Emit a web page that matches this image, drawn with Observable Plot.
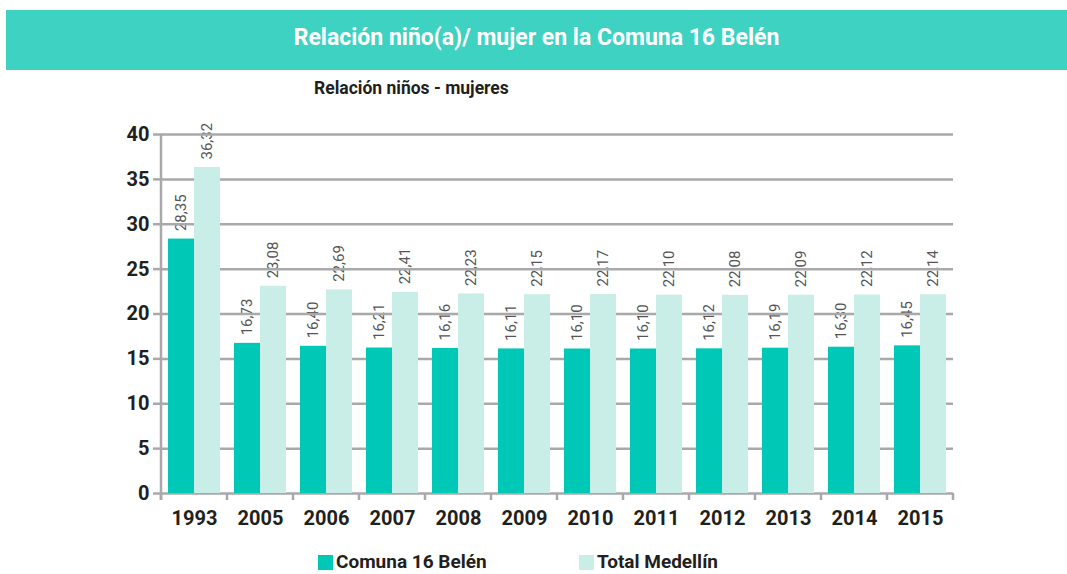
<!DOCTYPE html>
<html>
<head>
<meta charset="utf-8">
<script src="https://cdn.jsdelivr.net/npm/d3@7"></script>
<script src="https://cdn.jsdelivr.net/npm/@observablehq/plot@0.6"></script>
<style>
  body { margin: 0; background: #fff; font-family: Roboto, "Noto Sans", sans-serif; }
  #wrap { position: relative; width: 1067px; height: 574px; overflow: hidden; }
  #banner { position: absolute; left: 6px; top: 10px; width: 1061px; height: 60px; background: #3dd2c2;
    color: #fff; font-weight: bold; font-size: 23px; display: flex; align-items: center; justify-content: center; padding-bottom: 6px; box-sizing: border-box; }
  #subtitle { position: absolute; left: 314px; top: 78px; font-size: 17.5px; font-weight: bold; color: #231f20; }
  #chart { position: absolute; left: 0; top: 110px; }
  .leg { position: absolute; top: 552px; line-height: 20px; display: flex; align-items: center; font-size: 19px; font-weight: bold; color: #231f20; }
  .leg span.sw { display: inline-block; width: 15px; height: 15px; margin-right: 3px; }
</style>
</head>
<body>
<div id="wrap">
  <div id="banner">Relación niño(a)/ mujer en la Comuna 16 Belén</div>
  <div id="subtitle">Relación niños - mujeres</div>
  <div id="chart"></div>
  <div class="leg" style="left:318px"><span class="sw" style="background:#00c8b7"></span>Comuna 16 Belén</div>
  <div class="leg" style="left:579px"><span class="sw" style="background:#c9eee7"></span>Total Medellín</div>
</div>
<script>
const years = ["1993","2005","2006","2007","2008","2009","2010","2011","2012","2013","2014","2015"];
const comuna = [28.35,16.73,16.40,16.21,16.16,16.11,16.10,16.10,16.12,16.19,16.30,16.45];
const medellin = [36.32,23.08,22.69,22.41,22.23,22.15,22.17,22.10,22.08,22.09,22.12,22.14];
const seriesNames = ["Comuna 16 Belén","Total Medellín"];
const seriesColors = ["#00c8b7","#c9eee7"];
const yTicks = [0,5,10,15,20,25,30,35,40];

const data = [];
years.forEach((yr, i) => {
  data.push({year: yr, series: seriesNames[0], value: comuna[i]});
  data.push({year: yr, series: seriesNames[1], value: medellin[i]});
});
const fmt = v => v.toFixed(2).replace(".", ",");
const gridColor = "#a9a9ac";

const chart = Plot.plot({
  width: 1067,
  height: 425,
  marginLeft: 155,
  marginRight: 109,
  marginTop: 24,
  marginBottom: 42,
  style: {fontFamily: "Roboto, sans-serif", background: "transparent"},
  fx: {domain: years, paddingInner: 0, paddingOuter: 0, label: null, axis: null},
  x: {domain: seriesNames, paddingInner: 0, paddingOuter: 0.245, axis: null},
  y: {domain: [0, 40], axis: null},
  color: {domain: seriesNames, range: seriesColors},
  marks: [
    Plot.text(data, {fx: "year", x: "series", y: "value", text: d => fmt(d.value),
      rotate: -90, textAnchor: "start", dy: -8, fontSize: 15, fill: "#555"}),
    Plot.gridY(yTicks, {stroke: gridColor, strokeOpacity: 1, strokeWidth: 2.5}),
    Plot.barY(data, {fx: "year", x: "series", y: "value", fill: "series"}),
    Plot.axisY({ticks: yTicks, tickSize: 8, tickPadding: 4, stroke: gridColor, strokeWidth: 2.5,
      fill: "#231f20", fontSize: 20, fontWeight: "bold", label: null}),
    Plot.axisFx({anchor: "bottom", tickSize: 0, tickPadding: 17, fontSize: 20, fontWeight: "bold", fill: "#231f20", label: null})
  ]
});

document.getElementById("chart").appendChild(chart);

// vertical axis line and band-boundary ticks, from the plot's own scales
const fxS = chart.scale("fx");
const yS = chart.scale("y");
const y0 = yS.apply(0), yTop = yS.apply(40);
const svg = d3.select(chart.tagName === "svg" ? chart : chart.querySelector("svg"));
const g = svg.append("g").attr("stroke", gridColor).attr("stroke-width", 2.5);
const bounds = years.map(y => fxS.apply(y));
bounds.push(fxS.apply(years[years.length - 1]) + fxS.bandwidth);
g.append("line").attr("x1", bounds[0]).attr("x2", bounds[0]).attr("y1", yTop).attr("y2", y0 + 7);
bounds.forEach(b => g.append("line").attr("x1", b).attr("x2", b).attr("y1", y0).attr("y2", y0 + 7));
</script>
</body>
</html>
